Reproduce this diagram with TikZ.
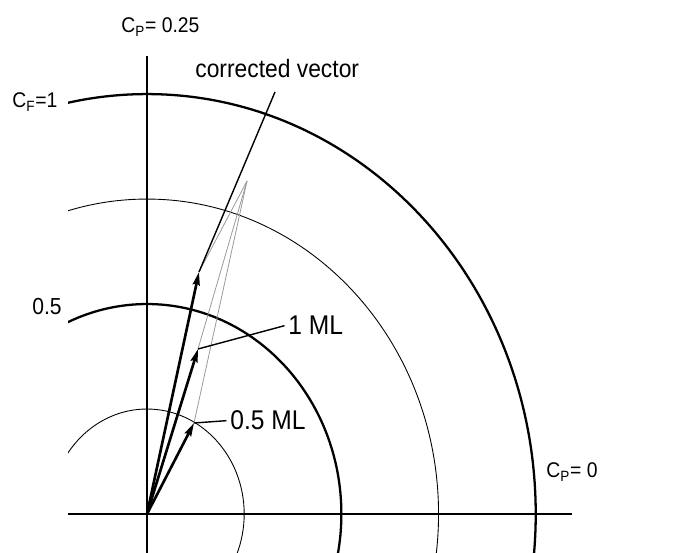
\documentclass[tikz,border=0pt]{standalone}
\usepackage{fontspec}
\setmainfont{Liberation Sans}
\usetikzlibrary{arrows.meta}
\newcommand{\tallt}[1]{\scalebox{1}[1.1]{#1}}
\begin{document}
\begin{tikzpicture}[x=0.02cm,y=-0.02cm,
  axis/.style={line width=1.1pt},
  bigarc/.style={line width=1.3pt},
  thinarc/.style={line width=0.5pt},
  vec/.style={line width=1.5pt,-{Stealth[length=7.5pt,width=4pt,inset=1pt]}},
  guide/.style={line width=0.45pt,gray!80},
  leader/.style={line width=0.8pt},
  axlabel/.style={inner sep=0pt,anchor=base west,font=\fontsize{11}{13}\selectfont},
  numlabel/.style={inner sep=0pt,anchor=base west,font=\fontsize{12}{14}\selectfont},
  mllabel/.style={inner sep=0pt,anchor=base west,font=\fontsize{14}{16}\selectfont},
  cvlabel/.style={inner sep=0pt,anchor=base west,font=\fontsize{13}{15}\selectfont}]
\useasboundingbox (0,0) rectangle (686,553);
\coordinate (O) at (147,514);
\coordinate (A) at (194,423);
\coordinate (B) at (198,349);
\coordinate (C) at (199,272);
\coordinate (P) at (247,181);
\coordinate (ytop) at (147,56);
\coordinate (ybot) at (147,553);
\coordinate (xl) at (68,514);
\coordinate (xr) at (572,514);
\coordinate (cvend) at (275,92);
% circles
\begin{scope}
  \clip (68,0) rectangle (686,553);
  \draw[thinarc] (O) ellipse [x radius=1.944cm, y radius=2.1cm];
  \draw[bigarc] (O) ellipse [x radius=3.888cm, y radius=4.2cm];
  \draw[thinarc] (O) ellipse [x radius=5.832cm, y radius=6.3cm];
  \draw[bigarc] (O) ellipse [x radius=7.776cm, y radius=8.4cm];
\end{scope}
% axes
\draw[axis] (ytop) -- (ybot);
\draw[axis] (xl) -- (xr);
% guide lines
\draw[guide] (P) -- (A);
\draw[guide] (P) -- (B);
\draw[guide] (P) -- (C);
% vectors
\draw[vec] (O) -- (A);
\draw[vec] (O) -- (B);
\draw[vec] (O) -- (C);
% labels
\node[axlabel] (cp25) at (121,33) {\tallt{C\textsubscript{P}= 0.25}};
\node[axlabel] (cf1) at (12,108) {\tallt{C\textsubscript{F}=1}};
\node[numlabel] (half) at (32,315) {\tallt{0.5}};
\node[axlabel] (cp0) at (546,478) {\tallt{C\textsubscript{P}= 0}};
\node[cvlabel] (cv) at (195,78) {\tallt{corrected vector}};
\node[mllabel] (ml1) at (288,335) {\tallt{1 ML}};
\node[mllabel] (ml05) at (230,430) {\tallt{0.5 ML}};
% leaders
\draw[leader] (C) -- (cvend);
\draw[leader] (B) -- ([xshift=-2pt]ml1.west);
\draw[leader] (A) -- ([xshift=-2pt]ml05.west);
\end{tikzpicture}
\end{document}
